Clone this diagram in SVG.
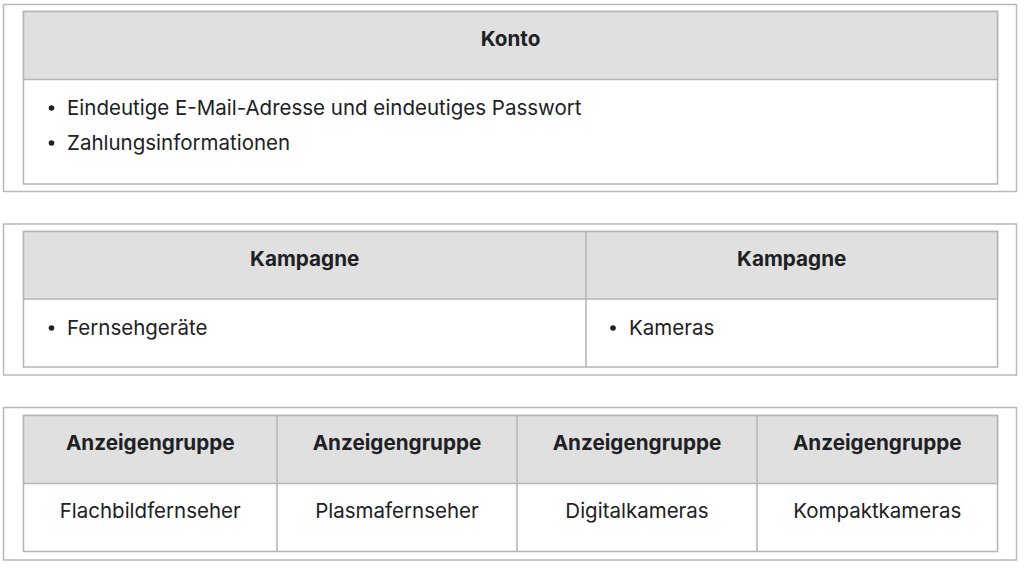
<svg xmlns="http://www.w3.org/2000/svg" width="1024" height="568" viewBox="0 0 1024 568">
<style>
.outer{fill:#ffffff;stroke:#b9b9b9;stroke-width:1.5}
.tbl{fill:#ffffff;stroke:#b4b4b4;stroke-width:1.5}
.hdr{fill:#e0e0e0;stroke:#b4b4b4;stroke-width:1.5}
.ln{stroke:#b4b4b4;stroke-width:1.5;fill:none}
.h{font-family:Inter,Roboto,"Liberation Sans",sans-serif;font-weight:bold;font-size:20.7px;fill:#202124;text-anchor:middle}
.t{font-family:Inter,Roboto,"Liberation Sans",sans-serif;font-size:20.5px;fill:#202124}
.c{text-anchor:middle}
.b{fill:#202124}
</style>
<rect width="1024" height="568" fill="#ffffff"/>
<g id="konto">
<rect class="outer" x="3.5" y="4.5" width="1013" height="187"/>
<rect class="tbl" x="23.5" y="11.5" width="974" height="172.5"/>
<rect class="hdr" x="23.5" y="11.5" width="974" height="68"/>
<text class="h" x="510.5" y="46">Konto</text>
<circle class="b" cx="51.5" cy="108" r="2.8"/>
<text class="t" x="67" y="115">Eindeutige E-Mail-Adresse und eindeutiges Passwort</text>
<circle class="b" cx="51.5" cy="143" r="2.8"/>
<text class="t" x="67" y="150">Zahlungsinformationen</text>
</g>
<g id="kampagnen">
<rect class="outer" x="3.5" y="224" width="1013" height="151"/>
<rect class="tbl" x="23.5" y="231.5" width="974" height="135.5"/>
<rect class="hdr" x="23.5" y="231.5" width="974" height="67.5"/>
<line class="ln" x1="586" y1="231.5" x2="586" y2="367"/>
<text class="h" x="304.75" y="266">Kampagne</text>
<text class="h" x="791.75" y="266">Kampagne</text>
<circle class="b" cx="51.5" cy="328" r="2.8"/>
<text class="t" x="67" y="335">Fernsehgeräte</text>
<circle class="b" cx="613" cy="328" r="2.8"/>
<text class="t" x="629" y="335">Kameras</text>
</g>
<g id="anzeigengruppen">
<rect class="outer" x="3.5" y="407.5" width="1013" height="152.5"/>
<rect class="tbl" x="23.5" y="415.5" width="974" height="136"/>
<rect class="hdr" x="23.5" y="415.5" width="974" height="68"/>
<line class="ln" x1="277" y1="415.5" x2="277" y2="551.5"/>
<line class="ln" x1="517" y1="415.5" x2="517" y2="551.5"/>
<line class="ln" x1="757" y1="415.5" x2="757" y2="551.5"/>
<text class="h" x="150.25" y="450">Anzeigengruppe</text>
<text class="h" x="397" y="450">Anzeigengruppe</text>
<text class="h" x="637" y="450">Anzeigengruppe</text>
<text class="h" x="877.25" y="450">Anzeigengruppe</text>
<text class="t c" x="150.25" y="518">Flachbildfernseher</text>
<text class="t c" x="397" y="518">Plasmafernseher</text>
<text class="t c" x="637" y="518">Digitalkameras</text>
<text class="t c" x="877.25" y="518">Kompaktkameras</text>
</g>
</svg>
